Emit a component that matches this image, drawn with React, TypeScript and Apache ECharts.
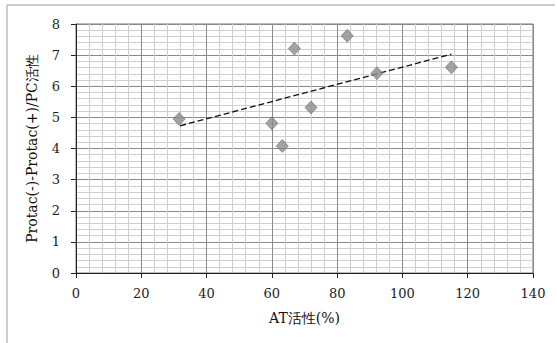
import React, { useEffect, useRef } from "react";
import * as echarts from "echarts";

const atActivity = [31.6, 60.0, 63.2, 66.9, 72.0, 83.1, 92.2, 115.0];
const pcDiff = [4.95, 4.81, 4.08, 7.21, 5.32, 7.62, 6.42, 6.61];
const trendX = [31.9, 115.0];
const trendY = [4.73, 7.03];
const xTicks = [0, 20, 40, 60, 80, 100, 120, 140];
const yTicks = [0, 1, 2, 3, 4, 5, 6, 7, 8];

const FONT = "DejaVu Serif";

export default function App() {
  const ref = useRef<HTMLDivElement>(null);
  useEffect(() => {
    if (!ref.current) return;
    const chart = echarts.init(ref.current, null, { renderer: "svg" });
    const scatter = atActivity.map((x, i) => [x, pcDiff[i]]);
    const trend = trendX.map((x, i) => [x, trendY[i]]);
    chart.setOption({
      animation: false,
      backgroundColor: "#fff",
      textStyle: { fontFamily: FONT },
      grid: {
        left: 76,
        top: 24,
        right: 24,
        bottom: 70,
        show: true,
        borderColor: "#777",
        borderWidth: 1,
      },
      xAxis: {
        type: "value",
        min: xTicks[0],
        max: xTicks[xTicks.length - 1],
        interval: 20,
        name: "AT活性(%)",
        nameLocation: "middle",
        nameGap: 38,
        nameTextStyle: { fontSize: 14, color: "#111", fontFamily: FONT },
        axisLine: { show: true, onZero: false, lineStyle: { color: "#222", width: 1 } },
        axisTick: { show: true, inside: false, length: 5, lineStyle: { color: "#222" } },
        axisLabel: { fontSize: 13, color: "#222", margin: 14, fontFamily: FONT },
        splitLine: { show: true, lineStyle: { color: "#8a8a8a", width: 1 } },
        minorTick: { show: false, splitNumber: 5 },
        minorSplitLine: { show: true, lineStyle: { color: "#cfcfcf", width: 1 } },
      },
      yAxis: {
        type: "value",
        min: yTicks[0],
        max: yTicks[yTicks.length - 1],
        interval: 1,
        name: "Protac(-)-Protac(+)/PC活性",
        nameLocation: "middle",
        nameRotate: 90,
        nameGap: 37,
        nameTextStyle: { fontSize: 14, color: "#111", fontFamily: FONT },
        axisLine: { show: true, onZero: false, lineStyle: { color: "#222", width: 1 } },
        axisTick: { show: true, inside: false, length: 5, lineStyle: { color: "#222" } },
        axisLabel: { fontSize: 13, color: "#222", margin: 16, fontFamily: FONT },
        splitLine: { show: true, lineStyle: { color: "#8a8a8a", width: 1 } },
        minorTick: { show: false, splitNumber: 5 },
        minorSplitLine: { show: true, lineStyle: { color: "#cfcfcf", width: 1 } },
      },
      graphic: [
        { type: "line", shape: { x1: 7, y1: 5, x2: 555, y2: 5 }, style: { stroke: "#999", lineWidth: 1 } },
        { type: "line", shape: { x1: 7, y1: 5, x2: 7, y2: 343 }, style: { stroke: "#999", lineWidth: 1 } },
      ],
      series: [
        {
          type: "line",
          data: trend,
          showSymbol: false,
          symbol: "none",
          lineStyle: { color: "#111", width: 1.3, type: [6, 3] },
          z: 3,
        },
        {
          type: "scatter",
          data: scatter,
          symbol: "diamond",
          symbolSize: [12, 13],
          itemStyle: { color: "#8c8c8c", borderColor: "#6e6e6e", borderWidth: 0.8 },
          z: 4,
        },
      ],
    });
    return () => chart.dispose();
  }, []);
  return <div ref={ref} style={{ width: 557, height: 343, position: "absolute", left: 0, top: 0 }} />;
}
